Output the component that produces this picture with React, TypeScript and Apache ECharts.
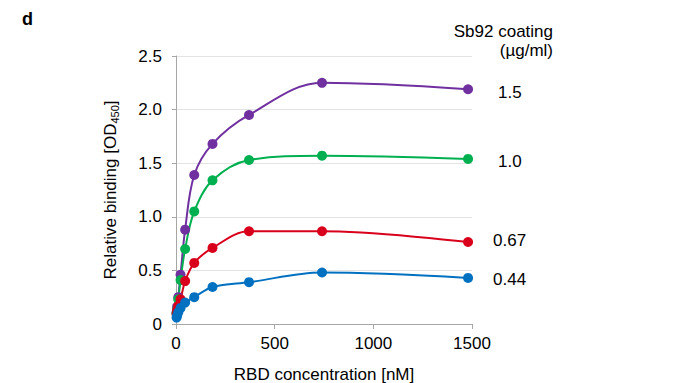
import React, { useEffect, useRef } from "react";
import * as echarts from "echarts";

const concentrations = [2.9, 5.8, 11.6, 23.1, 46.3, 92.5, 185, 370, 740, 1480];
const coatingLabels = ["1.5", "1.0", "0.67", "0.44"];
const purpleValues = [0.11, 0.16, 0.25, 0.46, 0.88, 1.39, 1.68, 1.95, 2.25, 2.19];
const greenValues = [0.1, 0.14, 0.23, 0.41, 0.7, 1.05, 1.34, 1.53, 1.57, 1.54];
const redValues = [0.09, 0.13, 0.17, 0.23, 0.4, 0.57, 0.71, 0.865, 0.865, 0.765];
const blueValues = [0.06, 0.08, 0.11, 0.15, 0.2, 0.25, 0.345, 0.39, 0.48, 0.43];
const xTicks = { min: 0, max: 1500, interval: 500 };
const yTicks = { min: 0, max: 2.5, interval: 0.5 };

const FONT = "'Liberation Sans', Arial, sans-serif";
const FS = 17;

export default function App() {
  const ref = useRef<HTMLDivElement>(null);
  useEffect(() => {
    document.body.style.margin = "0";
    const chart = echarts.init(ref.current!, null, { renderer: "svg" });
    const mk = (name: string, values: number[], color: string, dist: number, dy: number) => ({
      name,
      type: "line",
      smooth: 0.35,
      data: concentrations.map((c, i) => [c, values[i]]),
      symbol: "circle",
      symbolSize: 10,
      lineStyle: { color, width: 2 },
      itemStyle: { color },
      endLabel: {
        show: true,
        formatter: name,
        distance: dist,
        offset: [0, dy],
        color: "#000",
        fontSize: FS,
        fontFamily: FONT,
      },
    });
    chart.setOption({
      animation: false,
      textStyle: { fontFamily: FONT },
      grid: { left: 176, right: 213, top: 56, bottom: 59, containLabel: false, outerBoundsMode: "none" },
      xAxis: {
        type: "value",
        ...xTicks,
        name: "RBD concentration [nM]",
        nameLocation: "middle",
        nameGap: 42,
        nameTextStyle: { fontSize: FS, color: "#000", fontFamily: FONT },
        axisLine: { show: true, lineStyle: { color: "#a6a6a6", width: 1 } },
        axisTick: { show: true, length: 5, lineStyle: { color: "#a6a6a6" } },
        axisLabel: {
          fontSize: FS,
          color: "#000",
          margin: 11,
          fontFamily: FONT,
          formatter: (v: number) => String(v),
        },
        splitLine: { show: false },
      },
      yAxis: {
        type: "value",
        ...yTicks,
        name: "Relative binding [OD{sub|450}]",
        nameLocation: "middle",
        nameGap: 56,
        nameRotate: 90,
        nameTextStyle: {
          fontSize: FS,
          color: "#000",
          fontFamily: FONT,
          rich: {
            sub: { fontSize: 11, color: "#000", fontFamily: FONT, padding: [8, 0, 0, 0] },
          },
        },
        axisLine: { show: true, lineStyle: { color: "#a6a6a6", width: 1 } },
        axisTick: { show: true, length: 4, lineStyle: { color: "#a6a6a6" } },
        axisLabel: {
          fontSize: FS,
          color: "#000",
          margin: 14,
          fontFamily: FONT,
          formatter: (v: number) => (v === 0 ? "0" : v.toFixed(1)),
        },
        splitLine: { show: true, lineStyle: { color: "#e3e3e3", width: 1 } },
      },
      graphic: [
        {
          type: "text",
          left: 22,
          top: 10,
          style: { text: "d", fontSize: 18, fontWeight: "bold", fill: "#000", fontFamily: FONT },
        },
        {
          type: "text",
          x: 553,
          y: 22,
          style: {
            text: "Sb92 coating\n(µg/ml)",
            align: "right",
            fontSize: FS,
            lineHeight: 19,
            fill: "#000",
            fontFamily: FONT,
          },
        },
      ],
      series: [
        mk(coatingLabels[0], purpleValues, "#7030a0", 30, 3),
        mk(coatingLabels[1], greenValues, "#00b050", 30, 3),
        mk(coatingLabels[2], redValues, "#d9001b", 25, -1),
        mk(coatingLabels[3], blueValues, "#0070c0", 25, 2),
      ],
    });
    return () => chart.dispose();
  }, []);
  return <div ref={ref} style={{ width: 685, height: 383 }} />;
}
